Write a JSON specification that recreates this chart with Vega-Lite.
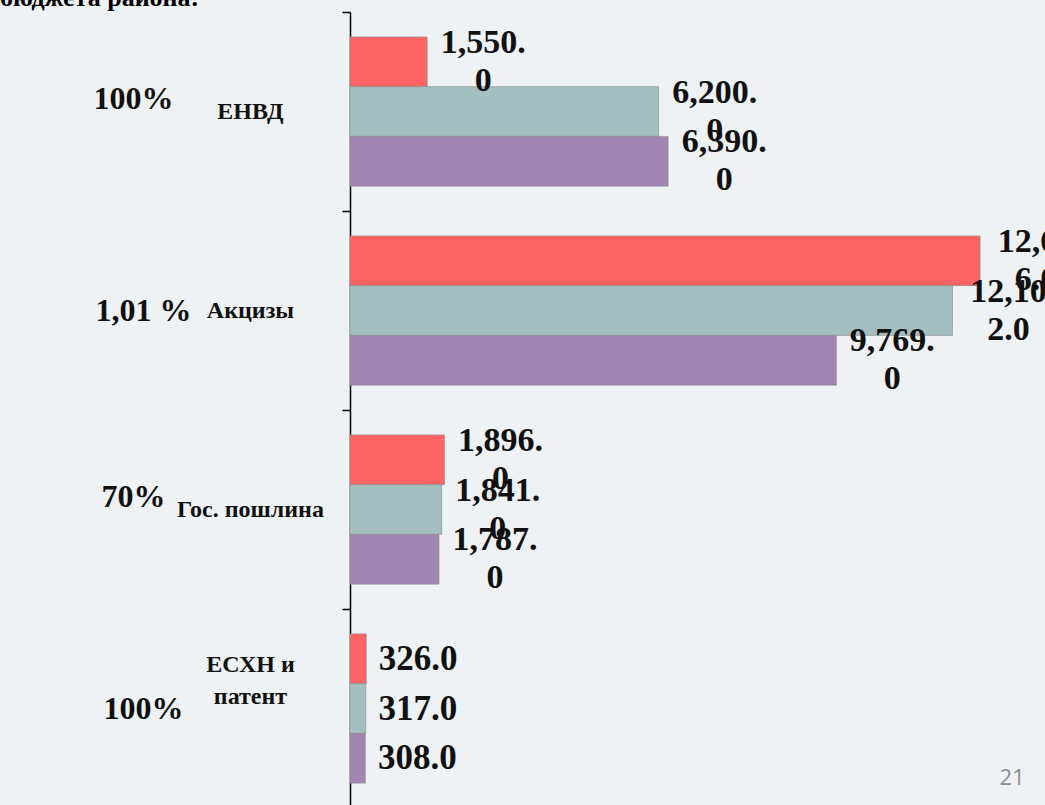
{
  "$schema": "https://vega.github.io/schema/vega-lite/v6.json",
  "autosize": "none",
  "width": 697,
  "height": 796,
  "padding": {"left": 350, "top": 12, "right": 0, "bottom": 0},
  "background": "#eef2f4",
  "data": {
    "values": [
      {"cat": "ЕНВД", "pct": "100%", "series": "Ряд 1", "value": 1550},
      {"cat": "ЕНВД", "pct": "100%", "series": "Ряд 2", "value": 6200},
      {"cat": "ЕНВД", "pct": "100%", "series": "Ряд 3", "value": 6390},
      {"cat": "Акцизы", "pct": "1,01 %", "series": "Ряд 1", "value": 12656},
      {"cat": "Акцизы", "pct": "1,01 %", "series": "Ряд 2", "value": 12102},
      {"cat": "Акцизы", "pct": "1,01 %", "series": "Ряд 3", "value": 9769},
      {"cat": "Гос. пошлина", "pct": "70%", "series": "Ряд 1", "value": 1896},
      {"cat": "Гос. пошлина", "pct": "70%", "series": "Ряд 2", "value": 1841},
      {"cat": "Гос. пошлина", "pct": "70%", "series": "Ряд 3", "value": 1787},
      {"cat": "ЕСХН и патент", "pct": "100%", "series": "Ряд 1", "value": 326},
      {"cat": "ЕСХН и патент", "pct": "100%", "series": "Ряд 2", "value": 317},
      {"cat": "ЕСХН и патент", "pct": "100%", "series": "Ряд 3", "value": 308}
    ]
  },
  "transform": [
    {"calculate": "format(datum.value, ',.1f')", "as": "s"},
    {"calculate": "length(datum.s) == 8 ? 5 : 6", "as": "cut"},
    {"calculate": "length(datum.s) > 5 ? substring(datum.s, 0, datum.cut) : datum.s", "as": "line1"},
    {"calculate": "length(datum.s) > 5 ? substring(datum.s, datum.cut) : ''", "as": "line2"},
    {"calculate": "datum.cat == 'ЕСХН и патент' ? 'ЕСХН и' : datum.cat", "as": "cl1"},
    {"calculate": "datum.cat == 'ЕСХН и патент' ? 'патент' : ''", "as": "cl2"}
  ],
  "encoding": {
    "y": {
      "field": "cat",
      "type": "nominal",
      "sort": null,
      "scale": {"paddingInner": 0, "paddingOuter": 0},
      "axis": {
        "title": null,
        "labels": false,
        "domainColor": "#000000",
        "domainWidth": 1.5,
        "tickColor": "#000000",
        "tickWidth": 1.5,
        "tickSize": 8,
        "tickBand": "extent"
      }
    },
    "x": {
      "field": "value",
      "type": "quantitative",
      "scale": {"domain": [0, 14000], "nice": false},
      "axis": null
    }
  },
  "layer": [
    {
      "mark": {"type": "bar", "stroke": "#8a8a8a", "strokeWidth": 0.6},
      "encoding": {
        "yOffset": {"field": "series", "type": "nominal", "sort": null, "scale": {"paddingInner": 0, "paddingOuter": 0.5}},
        "color": {
          "field": "series",
          "type": "nominal",
          "sort": null,
          "scale": {"range": ["#ff6464", "#a4bfbf", "#a186b4"]},
          "legend": null
        }
      }
    },
    {
      "transform": [{"filter": "datum.line2 != ''"}],
      "mark": {"type": "text", "align": "center", "baseline": "middle", "dx": 56, "dy": -19,
        "font": "Liberation Serif", "fontSize": 34, "fontWeight": "bold", "color": "#111111"},
      "encoding": {
        "text": {"field": "line1"},
        "yOffset": {"field": "series", "type": "nominal", "sort": null}
      }
    },
    {
      "transform": [{"filter": "datum.line2 != ''"}],
      "mark": {"type": "text", "align": "center", "baseline": "middle", "dx": 56, "dy": 19,
        "font": "Liberation Serif", "fontSize": 34, "fontWeight": "bold", "color": "#111111"},
      "encoding": {
        "text": {"field": "line2"},
        "yOffset": {"field": "series", "type": "nominal", "sort": null}
      }
    },
    {
      "transform": [{"filter": "datum.line2 == ''"}],
      "mark": {"type": "text", "align": "center", "baseline": "middle", "dx": 52, "dy": 0,
        "font": "Liberation Serif", "fontSize": 35, "fontWeight": "bold", "color": "#111111"},
      "encoding": {
        "text": {"field": "line1"},
        "yOffset": {"field": "series", "type": "nominal", "sort": null}
      }
    },
    {
      "transform": [{"filter": "datum.series == 'Ряд 1' && datum.cl2 == ''"}],
      "mark": {"type": "text", "align": "center", "baseline": "middle", "dy": 0, "clip": false,
        "font": "Liberation Serif", "fontSize": 24, "fontWeight": "bold", "color": "#111111"},
      "encoding": {
        "text": {"field": "cl1"},
        "x": {"datum": -2000, "type": "quantitative"}
      }
    },
    {
      "transform": [{"filter": "datum.series == 'Ряд 1' && datum.cl2 != ''"}],
      "mark": {"type": "text", "align": "center", "baseline": "middle", "dy": -44, "clip": false,
        "font": "Liberation Serif", "fontSize": 24, "fontWeight": "bold", "color": "#111111"},
      "encoding": {
        "text": {"field": "cl1"},
        "x": {"datum": -2000, "type": "quantitative"}
      }
    },
    {
      "transform": [{"filter": "datum.series == 'Ряд 1' && datum.cl2 != ''"}],
      "mark": {"type": "text", "align": "center", "baseline": "middle", "dy": -12, "clip": false,
        "font": "Liberation Serif", "fontSize": 24, "fontWeight": "bold", "color": "#111111"},
      "encoding": {
        "text": {"field": "cl2"},
        "x": {"datum": -2000, "type": "quantitative"}
      }
    },
    {
      "transform": [{"filter": "datum.series == 'Ряд 1' && (datum.cat == 'ЕНВД' || datum.cat == 'Гос. пошлина')"}],
      "mark": {"type": "text", "align": "center", "baseline": "middle", "dy": -13, "clip": false,
        "font": "Liberation Serif", "fontSize": 32, "fontWeight": "bold", "color": "#111111"},
      "encoding": {
        "text": {"field": "pct"},
        "x": {"datum": -4350, "type": "quantitative"}
      }
    },
    {
      "transform": [{"filter": "datum.series == 'Ряд 1' && !(datum.cat == 'ЕНВД' || datum.cat == 'Гос. пошлина')"}],
      "mark": {"type": "text", "align": "center", "baseline": "middle", "dy": 0, "clip": false,
        "font": "Liberation Serif", "fontSize": 32, "fontWeight": "bold", "color": "#111111"},
      "encoding": {
        "text": {"field": "pct"},
        "x": {"datum": -4150, "type": "quantitative"}
      }
    },
    {
      "transform": [{"filter": "datum.series == 'Ряд 1' && datum.cat == 'ЕНВД'"}],
      "mark": {"type": "text", "text": "бюджета района:", "align": "left", "baseline": "alphabetic", "dy": -106, "clip": false,
        "font": "Liberation Serif", "fontSize": 26, "fontWeight": "bold", "color": "#000000"},
      "encoding": {
        "x": {"datum": -7030, "type": "quantitative"}
      }
    },
    {
      "transform": [{"filter": "datum.series == 'Ряд 1' && datum.cat == 'ЕСХН и патент'"}],
      "mark": {"type": "text", "text": "21", "align": "center", "baseline": "middle", "dy": 69, "clip": false,
        "font": "Open Sans", "fontSize": 22, "color": "#8c8c8c"},
      "encoding": {
        "x": {"datum": 13300, "type": "quantitative"}
      }
    }
  ],
  "config": {"view": {"stroke": null}}
}
